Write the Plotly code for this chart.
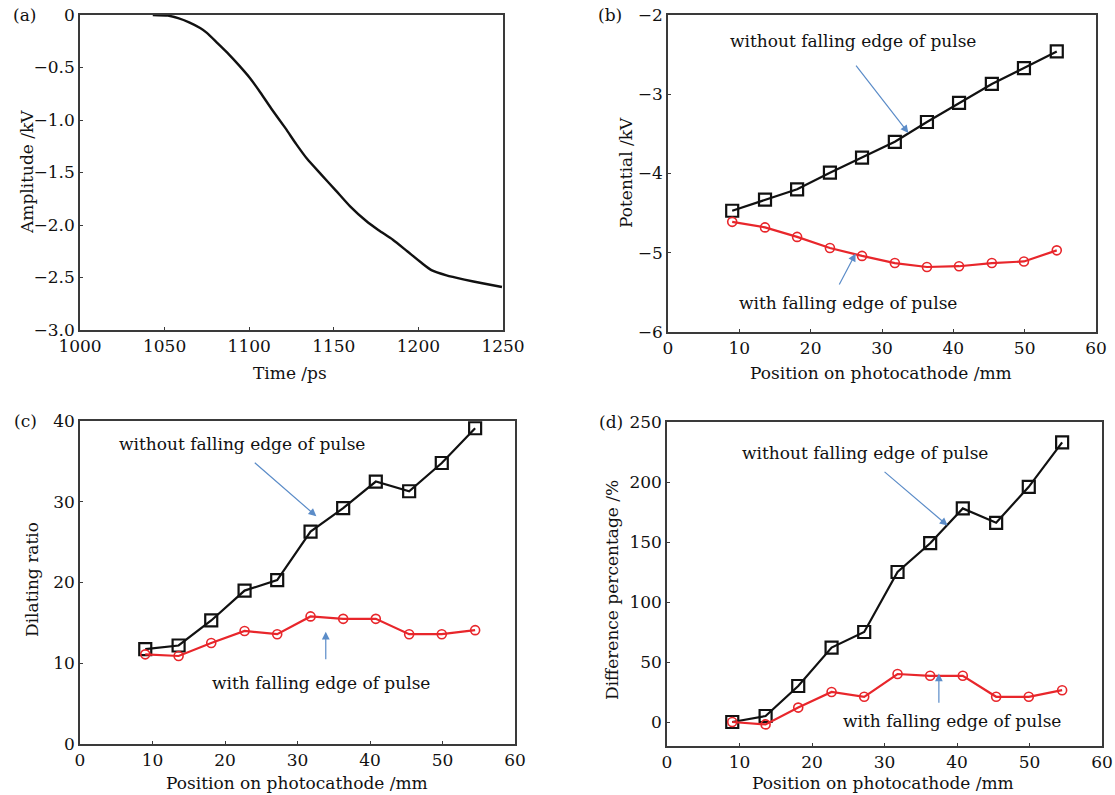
import plotly.graph_objects as go

# ---------------- data ----------------
# (a) pulse waveform
time_ps = [1043, 1052, 1058, 1064.5, 1071, 1075, 1081.4, 1087.7, 1094, 1100.4, 1106.7, 1113,
           1121.5, 1127.8, 1134.2, 1142.6, 1151.1, 1159.5, 1169, 1176.5, 1184.9, 1193.4,
           1201.8, 1207.7, 1216.6, 1227.2, 1237.8, 1249.4]
amplitude_kv = [0.0, -0.006, -0.03, -0.07, -0.124, -0.17, -0.27, -0.37, -0.48, -0.60, -0.74, -0.89,
                -1.08, -1.23, -1.37, -1.52, -1.67, -1.82, -1.96, -2.05, -2.14, -2.25,
                -2.36, -2.43, -2.48, -2.52, -2.555, -2.59]

# positions on photocathode (mm)
position_mm = [9.0, 13.6, 18.1, 22.7, 27.2, 31.8, 36.3, 40.8, 45.4, 49.9, 54.5]

# (b) potential
pot_without = [-4.47, -4.33, -4.20, -3.99, -3.80, -3.60, -3.35, -3.11, -2.87, -2.67, -2.46]
pot_with = [-4.61, -4.68, -4.80, -4.94, -5.04, -5.13, -5.18, -5.17, -5.13, -5.11, -4.97]

# (c) dilating ratio
dil_without = [11.75, 12.2, 15.3, 19.0, 20.3, 26.3, 29.2, 32.5, 31.3, 34.8, 39.1]
dil_with = [11.1, 10.9, 12.5, 14.0, 13.6, 15.8, 15.5, 15.5, 13.6, 13.6, 14.1]

# (d) difference percentage
diff_without = [0, 5, 30, 62, 75, 125, 149, 178, 166, 196, 233]
diff_with = [0, -2, 12, 25, 21, 40, 38.5, 38.5, 21, 21, 26.5]

# tick labels
a_x_ticks = [1000, 1050, 1100, 1150, 1200, 1250]
a_y_ticks = [0, -0.5, -1.0, -1.5, -2.0, -2.5, -3.0]
a_y_labels = ["0", "\u22120.5", "\u22121.0", "\u22121.5", "\u22122.0", "\u22122.5", "\u22123.0"]
pos_ticks = [0, 10, 20, 30, 40, 50, 60]
b_y_ticks = [-2, -3, -4, -5, -6]
c_y_ticks = [0, 10, 20, 30, 40]
d_y_ticks = [0, 50, 100, 150, 200, 250]

label_without = "without falling edge of pulse"
label_with = "with falling edge of pulse"

# ---------------- layout helpers ----------------
W, H = 1115, 795
FONT = "DejaVu Serif"
BLACK = "#111111"
RED = "#e8262b"
BLUE = "#5b8cc8"
FRAME = "#3a3a3a"


def px_x(p):
    return p / W


def px_y(p):
    return 1 - p / H


panels = {
    "a": dict(l=80, r=503, t=15, b=330),
    "b": dict(l=668, r=1096, t=15, b=332),
    "c": dict(l=80, r=515, t=421, b=744),
    "d": dict(l=667, r=1102, t=422, b=746),
}

fig = go.Figure()

# (a)
fig.add_trace(go.Scatter(x=time_ps, y=amplitude_kv, mode="lines",
                         line=dict(color=BLACK, width=2.4, shape="spline", smoothing=0.6),
                         xaxis="x", yaxis="y", showlegend=False))


def add_pair(xa, ya, y_without, y_with):
    fig.add_trace(go.Scatter(x=position_mm, y=y_without, mode="lines+markers",
                             line=dict(color=BLACK, width=2.2),
                             marker=dict(symbol="square-open", size=12,
                                         line=dict(color=BLACK, width=2.2), color=BLACK),
                             xaxis=xa, yaxis=ya, showlegend=False))
    fig.add_trace(go.Scatter(x=position_mm, y=y_with, mode="lines+markers",
                             line=dict(color=RED, width=2.2),
                             marker=dict(symbol="circle-open", size=9,
                                         line=dict(color=RED, width=1.6), color=RED),
                             xaxis=xa, yaxis=ya, showlegend=False))


add_pair("x2", "y2", pot_without, pot_with)
add_pair("x3", "y3", dil_without, dil_with)
add_pair("x4", "y4", diff_without, diff_with)

tickfont = dict(family=FONT, size=17, color="#111")


def axis_common():
    return dict(showline=True, mirror=True, linecolor=FRAME, linewidth=1.5,
                ticks="inside", ticklen=3, tickcolor=FRAME, showgrid=False,
                zeroline=False, tickfont=tickfont, automargin=False)


def set_axes(key, xname, yname, xanchor, yanchor, xrange, yrange, xt, yt, ytext=None):
    p = panels[key]
    xa = axis_common()
    xa.update(domain=[px_x(p["l"]), px_x(p["r"])], range=xrange, anchor=yanchor,
              tickmode="array", tickvals=xt)
    ya = axis_common()
    ya.update(domain=[px_y(p["b"]), px_y(p["t"])], range=yrange, anchor=xanchor,
              tickmode="array", tickvals=yt)
    if ytext is not None:
        ya["ticktext"] = ytext
    fig.update_layout(**{xname: xa, yname: ya})


set_axes("a", "xaxis", "yaxis", "x", "y", [1000, 1250], [-3.0, 0.0], a_x_ticks, a_y_ticks, a_y_labels)
set_axes("b", "xaxis2", "yaxis2", "x2", "y2", [0, 60], [-6, -2], pos_ticks, b_y_ticks)
set_axes("c", "xaxis3", "yaxis3", "x3", "y3", [0, 60], [0, 40], pos_ticks, c_y_ticks)
set_axes("d", "xaxis4", "yaxis4", "x4", "y4", [0, 60], [-20, 250], pos_ticks, d_y_ticks)

annotations = []
title_font = dict(family=FONT, size=17, color="#111")
ann_font = dict(family=FONT, size=17, color="#111")


def paper_text(text, x, y, rot=0, font=title_font):
    annotations.append(dict(text=text, x=px_x(x), y=px_y(y), xref="paper", yref="paper",
                            showarrow=False, textangle=rot, font=font,
                            xanchor="center", yanchor="middle"))


# panel letters
paper_text("(a)", 24, 15)
paper_text("(b)", 610, 15)
paper_text("(c)", 25, 421)
paper_text("(d)", 611, 422)

# axis titles
paper_text("Time /ps", 290, 373)
paper_text("Amplitude /kV", 27, 172, rot=-90)
paper_text("Position on photocathode /mm", 881, 373)
paper_text("Potential /kV", 626, 173, rot=-90)
paper_text("Position on photocathode /mm", 297, 783)
paper_text("Dilating ratio", 32, 580, rot=-90)
paper_text("Position on photocathode /mm", 883, 783)
paper_text("Difference percentage /%", 612, 590, rot=-90)


def data_text(text, xr, yr, x, y):
    annotations.append(dict(text=text, x=x, y=y, xref=xr, yref=yr, showarrow=False,
                            font=ann_font, xanchor="center", yanchor="middle"))


def arrow(xr, yr, x0, y0, x1, y1):
    annotations.append(dict(text="", x=x1, y=y1, ax=x0, ay=y0, xref=xr, yref=yr,
                            axref=xr, ayref=yr, showarrow=True, arrowhead=2,
                            arrowsize=1.3, arrowwidth=1.2, arrowcolor=BLUE))


# (b)
data_text(label_without, "x2", "y2", 25.9, -2.33)
arrow("x2", "y2", 26.2, -2.62, 33.7, -3.49)
data_text(label_with, "x2", "y2", 25.2, -5.64)
arrow("x2", "y2", 23.9, -5.42, 26.3, -5.01)
# (c)
data_text(label_without, "x3", "y3", 22.4, 37.1)
arrow("x3", "y3", 23.9, 35.0, 32.6, 28.2)
data_text(label_with, "x3", "y3", 33.3, 7.6)
arrow("x3", "y3", 33.9, 10.3, 33.9, 13.9)
# (d)
data_text(label_without, "x4", "y4", 27.3, 224.2)
arrow("x4", "y4", 29.8, 209.5, 38.7, 163.7)
data_text(label_with, "x4", "y4", 39.3, 0.8)
arrow("x4", "y4", 37.5, 14.7, 37.5, 40.5)

fig.update_layout(width=W, height=H, margin=dict(l=0, r=0, t=0, b=0),
                  paper_bgcolor="white", plot_bgcolor="white",
                  font=dict(family=FONT, size=17, color="#111"),
                  annotations=annotations, showlegend=False)

fig.write_html("out.html")
